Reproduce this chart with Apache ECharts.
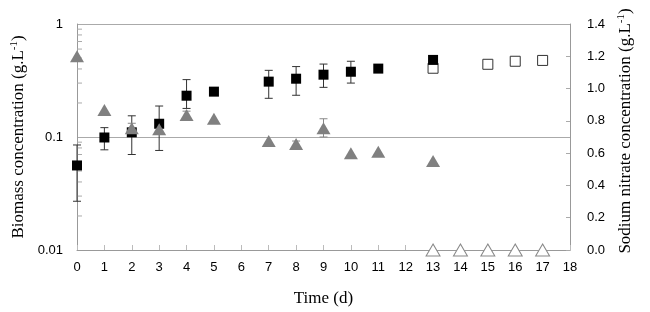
<!DOCTYPE html>
<html>
<head>
<meta charset="utf-8">
<script src="https://cdn.jsdelivr.net/npm/echarts@6/dist/echarts.min.js"></script>
<style>
  html, body { margin: 0; padding: 0; background: #fff; }
  #chart { width: 650px; height: 312px; }
</style>
</head>
<body>
<div id="chart"></div>
<script>
// biomass (filled squares, left log axis)
var days = [0, 1, 2, 3, 4, 5, 7, 8, 9, 10, 11, 13];
var biomass = [0.056, 0.099, 0.110, 0.131, 0.232, 0.252, 0.309, 0.328, 0.356, 0.378, 0.403, 0.481];
var biomassLow = [0.027, 0.077, 0.070, 0.076, 0.179, null, 0.220, 0.234, 0.275, 0.300, null, null];
var biomassHigh = [0.085, 0.121, 0.154, 0.188, 0.322, null, 0.389, 0.420, 0.442, 0.468, null, null];

// biomass, second run (open squares)
var daysOpen = [13, 15, 16, 17];
var biomassOpen = [0.406, 0.440, 0.468, 0.476];

// sodium nitrate (filled triangles, right axis)
var nitrate = [1.20, 0.867, 0.754, 0.748, 0.836, 0.813, 0.675, 0.657, 0.754, 0.599, 0.609, 0.551];
var nitrateLow = [null, null, 0.725, null, 0.810, null, null, 0.640, 0.700, null, null, null];
var nitrateHigh = [null, null, 0.785, null, 0.860, null, null, 0.675, 0.813, null, null, null];

// sodium nitrate, second run (open triangles)
var daysNitOpen = [13, 14, 15, 16, 17];
var nitrateOpen = [0, 0, 0, 0, 0];

// log axis minor tick values
var minorTicks = [0.02, 0.03, 0.04, 0.05, 0.06, 0.07, 0.08, 0.09,
                  0.2, 0.3, 0.4, 0.5, 0.6, 0.7, 0.8, 0.9];

function pairs(xs, ys) {
    return xs.map(function (x, i) { return [x, ys[i]]; });
}

function errData(xs, lo, hi) {
    var out = [];
    xs.forEach(function (x, i) {
        if (lo[i] != null) out.push([x, lo[i], hi[i]]);
    });
    return out;
}

function errRender(color) {
    return function (params, api) {
        var a = api.coord([api.value(0), api.value(1)]);
        var b = api.coord([api.value(0), api.value(2)]);
        var w = 4;
        var st = { stroke: color, lineWidth: 1 };
        return {
            type: 'group',
            children: [
                { type: 'line', shape: { x1: a[0], y1: a[1], x2: b[0], y2: b[1] }, style: st },
                { type: 'line', shape: { x1: a[0] - w, y1: a[1], x2: a[0] + w, y2: a[1] }, style: st },
                { type: 'line', shape: { x1: b[0] - w, y1: b[1], x2: b[0] + w, y2: b[1] }, style: st }
            ]
        };
    };
}

var labelStyle = { fontFamily: 'Liberation Sans, Arial', fontSize: 13, color: '#000' };
var nameStyle = {
    fontFamily: 'Liberation Serif, Times New Roman', fontSize: 17, color: '#000',
    rich: { sup: { fontFamily: 'Liberation Serif', fontSize: 11, verticalAlign: 'top', padding: [0, 0, 8, 0] } }
};

var chart = echarts.init(document.getElementById('chart'));
chart.setOption({
    animation: false,
    backgroundColor: '#fff',
    grid: { left: 77, right: 80, top: 24, bottom: 62 },
    xAxis: {
        type: 'value',
        min: 0,
        max: 18,
        interval: 1,
        name: 'Time (d)',
        nameLocation: 'middle',
        nameGap: 40,
        nameTextStyle: nameStyle,
        axisLine: { lineStyle: { color: '#999' } },
        axisTick: { inside: true, length: 5, lineStyle: { color: '#bbb' } },
        axisLabel: Object.assign({ margin: 11 }, labelStyle),
        splitLine: { show: false }
    },
    yAxis: [
        {
            type: 'log',
            logBase: 10,
            min: 0.01,
            max: 1,
            name: 'Biomass concentration (g.L{sup|-1})',
            nameLocation: 'middle',
            nameGap: 40,
            nameTextStyle: nameStyle,
            axisLine: { show: true, lineStyle: { color: '#999' } },
            axisTick: { show: false },
            axisLabel: Object.assign({ margin: 14, formatter: function (v) { return String(v); } }, labelStyle),
            splitLine: { show: true, lineStyle: { color: '#aaa' } }
        },
        {
            type: 'value',
            min: 0,
            max: 1.4,
            interval: 0.2,
            position: 'right',
            name: 'Sodium nitrate concentration (g.L{sup|-1})',
            nameLocation: 'middle',
            nameGap: 42,
            nameRotate: 90,
            nameTextStyle: Object.assign({ padding: [0, 0, 0, 12] }, nameStyle),
            axisLine: { show: true, lineStyle: { color: '#999' } },
            axisTick: { show: true, inside: true, length: 4, lineStyle: { color: '#aaa' } },
            axisLabel: Object.assign({ margin: 17, formatter: function (v) { return v.toFixed(1); } }, labelStyle),
            splitLine: { show: false }
        }
    ],
    series: [
        {
            // minor ticks of the log axis
            type: 'custom',
            name: 'minor ticks',
            yAxisIndex: 0,
            silent: true,
            clip: false,
            renderItem: function (params, api) {
                var p = api.coord([0, api.value(1)]);
                return {
                    type: 'line',
                    shape: { x1: p[0], y1: p[1], x2: p[0] + 5, y2: p[1] },
                    style: { stroke: '#aaa', lineWidth: 1 }
                };
            },
            data: minorTicks.map(function (v) { return [0, v]; }),
            z: 1
        },
        {
            type: 'custom',
            name: 'biomass error',
            yAxisIndex: 0,
            renderItem: errRender('#333'),
            data: errData(days, biomassLow, biomassHigh),
            z: 2
        },
        {
            type: 'scatter',
            name: 'Biomass',
            yAxisIndex: 0,
            symbol: 'rect',
            symbolSize: 10,
            itemStyle: { color: '#000', opacity: 1 },
            data: pairs(days, biomass),
            z: 4
        },
        {
            type: 'scatter',
            name: 'Biomass (open)',
            yAxisIndex: 0,
            symbol: 'rect',
            symbolSize: 10,
            itemStyle: { color: '#fff', borderColor: '#333', borderWidth: 1, opacity: 1 },
            data: pairs(daysOpen, biomassOpen),
            z: 3
        },
        {
            type: 'custom',
            name: 'nitrate error',
            yAxisIndex: 1,
            renderItem: errRender('#888'),
            data: errData(days, nitrateLow, nitrateHigh),
            z: 5
        },
        {
            type: 'scatter',
            name: 'Nitrate',
            yAxisIndex: 1,
            symbol: 'triangle',
            symbolSize: [14, 12],
            itemStyle: { color: '#808080', opacity: 1 },
            data: pairs(days, nitrate),
            z: 6
        },
        {
            type: 'scatter',
            name: 'Nitrate (open)',
            yAxisIndex: 1,
            symbol: 'triangle',
            symbolSize: [14, 12],
            itemStyle: { color: '#fff', borderColor: '#888', borderWidth: 1, opacity: 1 },
            data: pairs(daysNitOpen, nitrateOpen),
            z: 6
        }
    ]
});
</script>
</body>
</html>
